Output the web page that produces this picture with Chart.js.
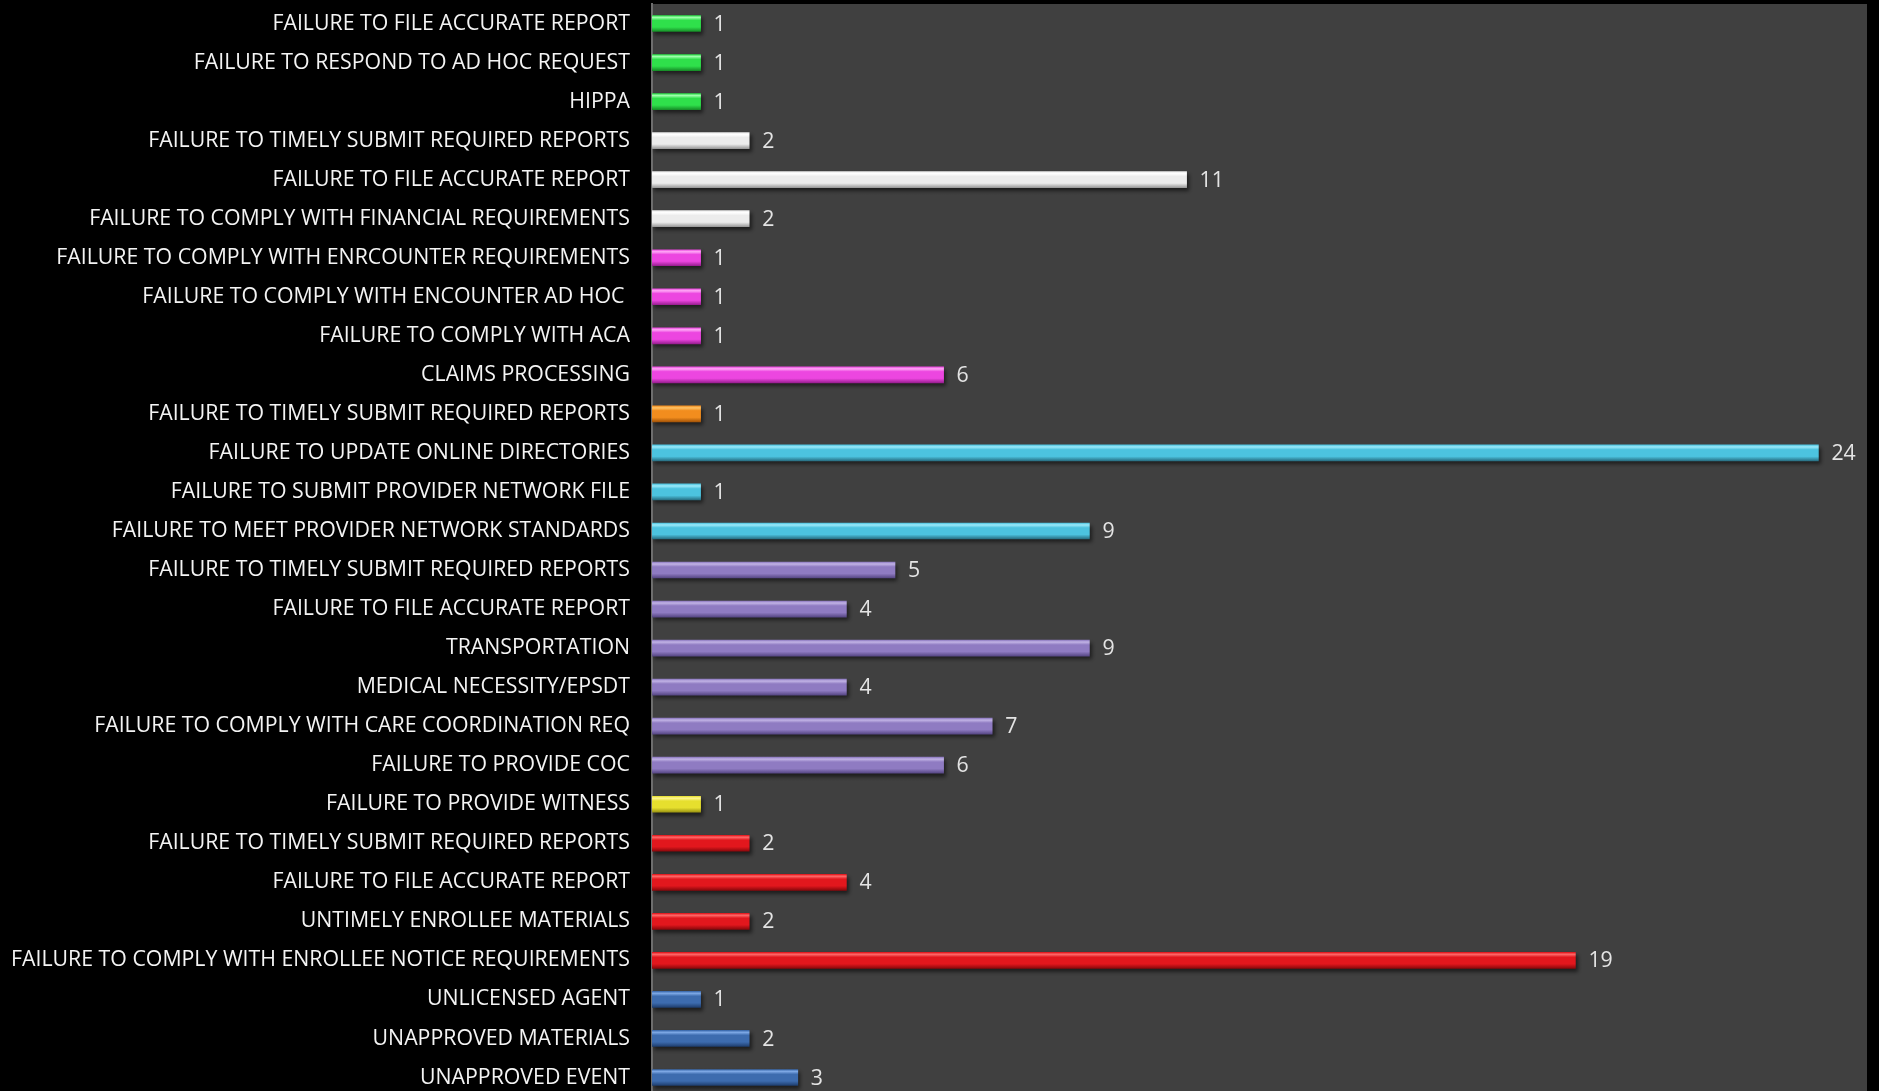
<!DOCTYPE html>
<html>
<head>
<meta charset="utf-8">
<title>Violations by category</title>
<script src="https://cdn.jsdelivr.net/npm/chart.js@4/dist/chart.umd.min.js"></script>
<style>
  html, body { margin: 0; padding: 0; background: #000; overflow: hidden; }
  canvas { display: block; }
</style>
</head>
<body>
<canvas id="chart" width="1879" height="1097"></canvas>
<script>
// ─── Data ───
const categories = [
  'FAILURE TO FILE ACCURATE REPORT',
  'FAILURE TO RESPOND TO AD HOC REQUEST',
  'HIPPA',
  'FAILURE TO TIMELY SUBMIT REQUIRED REPORTS',
  'FAILURE TO FILE ACCURATE REPORT',
  'FAILURE TO COMPLY WITH FINANCIAL REQUIREMENTS',
  'FAILURE TO COMPLY WITH ENRCOUNTER REQUIREMENTS',
  'FAILURE TO COMPLY WITH ENCOUNTER AD HOC ',
  'FAILURE TO COMPLY WITH ACA',
  'CLAIMS PROCESSING',
  'FAILURE TO TIMELY SUBMIT REQUIRED REPORTS',
  'FAILURE TO UPDATE ONLINE DIRECTORIES',
  'FAILURE TO SUBMIT PROVIDER NETWORK FILE',
  'FAILURE TO MEET PROVIDER NETWORK STANDARDS',
  'FAILURE TO TIMELY SUBMIT REQUIRED REPORTS',
  'FAILURE TO FILE ACCURATE REPORT',
  'TRANSPORTATION',
  'MEDICAL NECESSITY/EPSDT',
  'FAILURE TO COMPLY WITH CARE COORDINATION REQ',
  'FAILURE TO PROVIDE COC',
  'FAILURE TO PROVIDE WITNESS',
  'FAILURE TO TIMELY SUBMIT REQUIRED REPORTS',
  'FAILURE TO FILE ACCURATE REPORT',
  'UNTIMELY ENROLLEE MATERIALS',
  'FAILURE TO COMPLY WITH ENROLLEE NOTICE REQUIREMENTS',
  'UNLICENSED AGENT',
  'UNAPPROVED MATERIALS',
  'UNAPPROVED EVENT',
];

const counts = [
  1, 1, 1,
  2, 11, 2,
  1, 1, 1, 6,
  1,
  24, 1, 9,
  5, 4, 9, 4, 7, 6,
  1,
  2, 4, 2, 19,
  1, 2, 3,
];

// which colour group each bar belongs to
const barGroups = [
  'green', 'green', 'green',
  'silver', 'silver', 'silver',
  'magenta', 'magenta', 'magenta', 'magenta',
  'orange',
  'cyan', 'cyan', 'cyan',
  'purple', 'purple', 'purple', 'purple', 'purple', 'purple',
  'yellow',
  'red', 'red', 'red', 'red',
  'blue', 'blue', 'blue',
];

// ─── Styles ───
// [top highlight, body, bottom edge]
const groupColors = {
  green:   ['#9dffab', '#2fe04b', '#178f28'],
  silver:  ['#ffffff', '#ececec', '#9a9a9a'],
  magenta: ['#ffa8f6', '#ec46e0', '#9a1f92'],
  orange:  ['#ffc468', '#f28d1e', '#a65508'],
  cyan:    ['#9ceafa', '#4cc3df', '#286f83'],
  purple:  ['#c2b4e6', '#8f7bc2', '#574785'],
  yellow:  ['#fff696', '#e6df2e', '#9c9512'],
  red:     ['#ff6a6a', '#e2171d', '#8c080c'],
  blue:    ['#7ea9e6', '#3d6caf', '#1f3f70'],
};

const BAR_H = 16;
const LABEL_FONT = { family: '"Open Sans", sans-serif', size: 21.3 };

function barFill(ctx) {
  const c = groupColors[barGroups[ctx.dataIndex]];
  if (!c) return '#888';
  const yScale = ctx.chart.scales.y;
  if (!yScale) return c[1];
  const cy = yScale.getPixelForValue(ctx.dataIndex);
  if (!isFinite(cy)) return c[1];
  const g = ctx.chart.ctx.createLinearGradient(0, cy - BAR_H / 2, 0, cy + BAR_H / 2);
  g.addColorStop(0, c[1]);
  g.addColorStop(0.12, c[0]);
  g.addColorStop(0.3, c[1]);
  g.addColorStop(0.72, c[1]);
  g.addColorStop(1, c[2]);
  return g;
}

// grey plot area on black canvas
const plotBackground = {
  id: 'plotBackground',
  beforeDraw(chart) {
    const { ctx, chartArea: a } = chart;
    ctx.save();
    ctx.fillStyle = '#000';
    ctx.fillRect(0, 0, chart.width, chart.height);
    ctx.fillStyle = '#404040';
    ctx.fillRect(a.left, a.top, a.right - a.left, chart.height - a.top);
    ctx.restore();
  },
};

// soft drop shadow under the bars
const barShadow = {
  id: 'barShadow',
  beforeDatasetsDraw(chart) {
    const ctx = chart.ctx;
    ctx.save();
    ctx.shadowColor = 'rgba(0,0,0,0.55)';
    ctx.shadowBlur = 4;
    ctx.shadowOffsetX = 2;
    ctx.shadowOffsetY = 3;
  },
  afterDatasetsDraw(chart) {
    chart.ctx.restore();
  },
};

// value labels at the end of each bar
const valueLabels = {
  id: 'valueLabels',
  afterDatasetsDraw(chart) {
    const ctx = chart.ctx;
    const meta = chart.getDatasetMeta(0);
    ctx.save();
    ctx.font = `${LABEL_FONT.size}px ${LABEL_FONT.family}`;
    ctx.fillStyle = '#e4e4e4';
    ctx.textAlign = 'left';
    ctx.textBaseline = 'middle';
    meta.data.forEach((bar, i) => {
      ctx.fillText(String(counts[i]), bar.x + 13, bar.y + 1);
    });
    ctx.restore();
  },
};

new Chart(document.getElementById('chart'), {
  type: 'bar',
  data: {
    labels: categories,
    datasets: [{
      data: counts,
      backgroundColor: barFill,
      borderWidth: 0,
      barThickness: BAR_H,
    }],
  },
  options: {
    indexAxis: 'y',
    responsive: false,
    animation: false,
    layout: { padding: { top: 4, right: 12, left: 0, bottom: 0 } },
    plugins: { legend: { display: false }, tooltip: { enabled: false } },
    scales: {
      x: { display: false, min: 0, max: 25 },
      y: {
        grid: { display: false, drawTicks: false },
        border: { display: true, color: '#6e6e6e', width: 2 },
        ticks: {
          autoSkip: false,
          padding: 22,
          color: '#f4f4f4',
          font: LABEL_FONT,
        },
        afterFit(scale) {
          scale.width = 652;
          scale.paddingTop = 0;
          scale.paddingBottom = 0;
        },
      },
    },
  },
  plugins: [plotBackground, barShadow, valueLabels],
});
</script>
</body>
</html>
